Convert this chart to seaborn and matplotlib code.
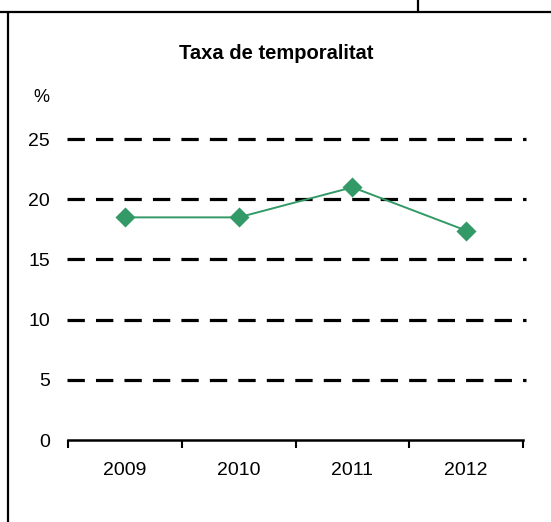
import matplotlib
matplotlib.use("Agg")
import matplotlib.pyplot as plt
import seaborn as sns
import pandas as pd
from matplotlib.lines import Line2D

years = ["2009", "2010", "2011", "2012"]
taxa = [18.5, 18.5, 21.0, 17.4]
y_ticks = [0, 5, 10, 15, 20, 25]

sns.set_style("white")
plt.rcParams['font.family'] = ['Liberation Sans', 'DejaVu Sans']
plt.rcParams['lines.scale_dashes'] = False
plt.rcParams['text.color'] = 'black'
plt.rcParams['xtick.color'] = 'black'
plt.rcParams['ytick.color'] = 'black'

df = pd.DataFrame({'year': years, 'taxa': taxa})

fig = plt.figure(figsize=(5.51, 5.22), dpi=100)
ax = fig.add_axes([0.1234, 0.157, 0.826, 0.588])

# línies discontínues
for t in y_ticks[1:]:
    ax.axhline(t, xmin=-0.002, xmax=1.006, color='black', lw=2.3,
               dashes=(12.5, 8), zorder=1, clip_on=False)

sns.pointplot(data=df, x='year', y='taxa', color='#339966', markers='D',
              markersize=9, linewidth=1.4, ax=ax, zorder=3)

ax.set_ylim(0, 25.5)
ax.set_xlim(-0.5, 3.5)
ax.set_yticks(y_ticks)
ax.set_yticklabels([str(t) for t in y_ticks], fontsize=14)
ax.tick_params(axis='y', length=0, pad=13, left=False)

ax.set_xticks([-0.5, 0.5, 1.5, 2.5, 3.5])
ax.set_xticklabels([])
ax.set_xticks(range(len(years)), minor=True)
ax.set_xticklabels(years, minor=True, fontsize=14)
ax.tick_params(axis='x', which='major', bottom=True, length=6, width=1.5,
               color='black', direction='out')
ax.tick_params(axis='x', which='minor', bottom=True, length=0, pad=16)

for s in ['top', 'right', 'left']:
    ax.spines[s].set_visible(False)
ax.spines['bottom'].set_color('black')
ax.spines['bottom'].set_linewidth(1.8)
ax.set_xlabel('')
ax.set_ylabel('')

fig.text(0.501, 0.898, 'Taxa de temporalitat', ha='center', va='center',
         fontsize=14.5, fontweight='bold')
fig.text(0.061, 0.814, '%', ha='left', va='center', fontsize=13)

# vores de la taula
fig.add_artist(Line2D([0, 1], [0.977, 0.977], color='black', lw=1.6))
fig.add_artist(Line2D([0.0145, 0.0145], [0, 0.977], color='black', lw=1.6))
fig.add_artist(Line2D([0.7586, 0.7586], [0.977, 1], color='black', lw=1.6))

fig.savefig('out.png', dpi=100)
